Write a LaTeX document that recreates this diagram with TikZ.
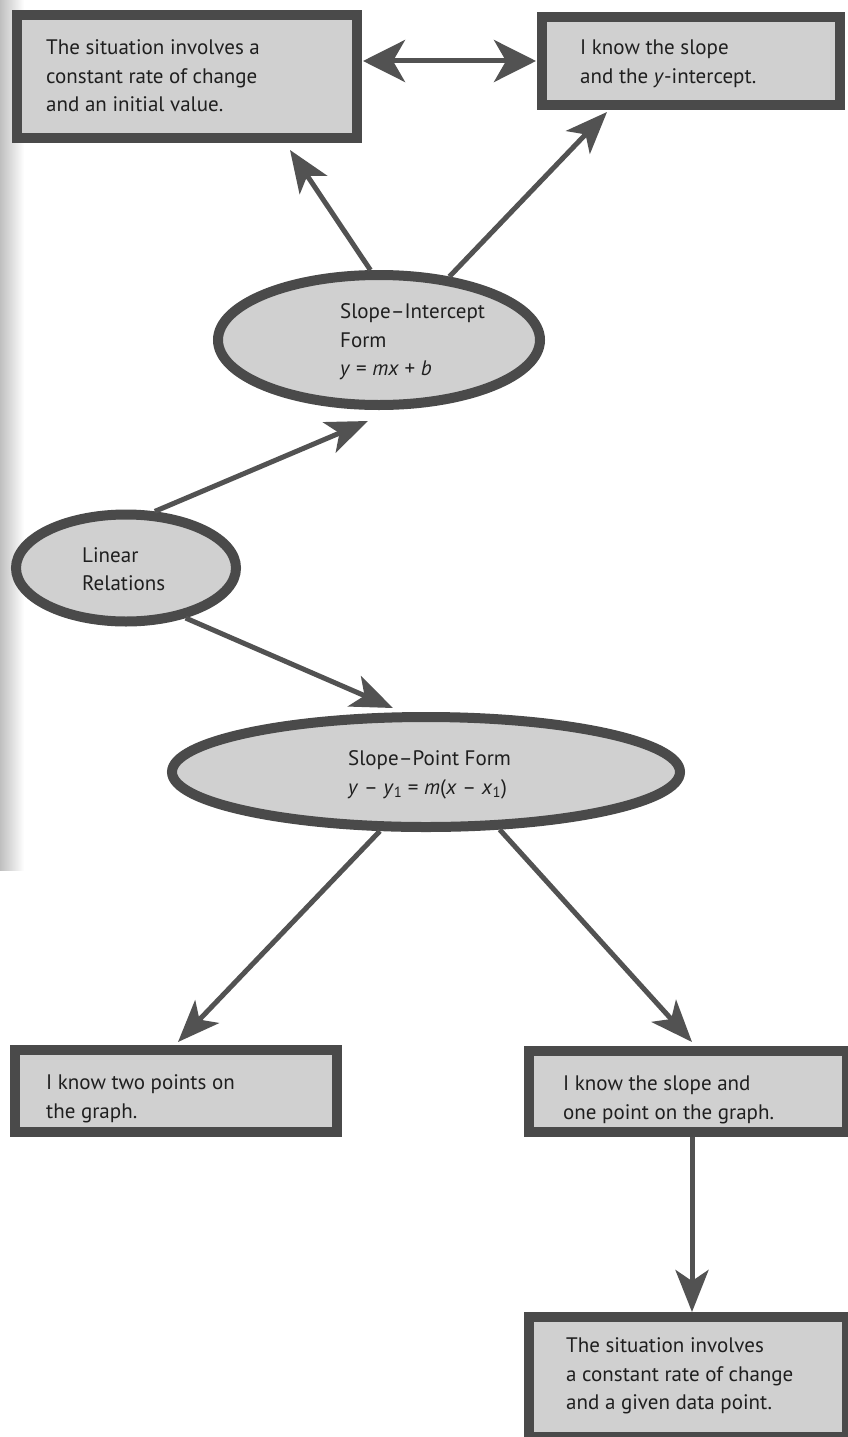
\documentclass[tikz,border=0pt]{standalone}
\usepackage{fontspec}
\setmainfont{PT Sans}
\usetikzlibrary{shapes.geometric,arrows.meta,calc}
\definecolor{edge}{HTML}{4A4A4A}
\definecolor{boxfill}{HTML}{D0D0D0}
\definecolor{arrcol}{HTML}{525252}
\tikzset{
  box/.style={draw=edge, fill=boxfill, line width=10pt, rectangle, inner sep=0pt},
  oval/.style={draw=edge, fill=boxfill, line width=10pt, ellipse, inner sep=0pt},
  txt/.style={anchor=west, align=left, inner sep=0pt, font=\fontsize{21}{28.5}\selectfont, text=black!88},
  arr/.style={draw=arrcol, line width=5pt, -{Stealth[length=42pt,width=33pt,inset=11pt]}},
  darr/.style={draw=arrcol, line width=5pt, {Stealth[length=42pt,width=42pt,inset=12pt]}-{Stealth[length=42pt,width=42pt,inset=12pt]}}
}
\begin{document}
\begin{tikzpicture}[x=1pt,y=-1pt]
\useasboundingbox (0,0) rectangle (848,1437);
\clip (0,0) rectangle (848,1437);
\fill[white] (0,0) rectangle (848,1437);
\shade[left color=gray!50, right color=white] (0,0) rectangle (24,870);

% boxes
\node[box, minimum width=340pt, minimum height=123pt] (b1) at (187,76.5) {};
\node[box, minimum width=298pt, minimum height=88pt] (b2) at (691,61) {};
\node[box, minimum width=322pt, minimum height=82pt] (b3) at (176,1091) {};
\node[box, minimum width=318pt, minimum height=81pt] (b4) at (688,1091.5) {};
\node[box, minimum width=318pt, minimum height=120pt] (b5) at (688,1377) {};

% ellipses
\node[oval, minimum width=322pt, minimum height=130pt] (si) at (379,340) {};
\node[oval, minimum width=220pt, minimum height=107pt] (lr) at (126,568) {};
\node[oval, minimum width=508pt, minimum height=110pt] (sp) at (426,772) {};

% texts
\node[txt] (t1) at (46,76) {The situation involves a\\constant rate of change\\and an initial value.};
\node[txt] (t2) at (580,64) {I know the slope\\and the \textit{y}-intercept.};
\node[txt] (tsi) at (340,342) {Slope--Intercept\\Form\\\textit{y} = \textit{mx} + \textit{b}};
\node[txt] (tlr) at (82,569) {Linear\\Relations};
\node[txt] (tsp) at (348,775) {Slope--Point Form\\\textit{y} -- \textit{y}\textsubscript{1} = \textit{m}(\textit{x} -- \textit{x}\textsubscript{1})};
\node[txt] (t3) at (46,1099) {I know two points on\\the graph.};
\node[txt] (t4) at (563,1100) {I know the slope and\\one point on the graph.};
\node[txt] (t5) at (566,1376) {The situation involves\\a constant rate of change\\and a given data point.};

% connectors
\draw[darr, shorten <=1pt, shorten >=1pt] (b1.east |- b2.west) -- (b2.west);
\draw[arr] (si.97) -- ($(b1.south)+(103,7)$);
\draw[arr] (si.42) -- ($(b2.south)+(-84,2)$);
\draw[arr] (lr.63) -- ($(si.south)+(-11,11)$);
\draw[arr] (lr.320) -- ($(sp.north)+(-33,-4)$);
\draw[arr] (sp.232) -- ($(b3.north)+(2,-3)$);
\draw[arr] (sp.322) -- ($(b4.north)+(4,-4)$);
\draw[arr] ($(b4.south)+(4,0)$) -- ($(b5.north)+(4,0)$);
\end{tikzpicture}
\end{document}
